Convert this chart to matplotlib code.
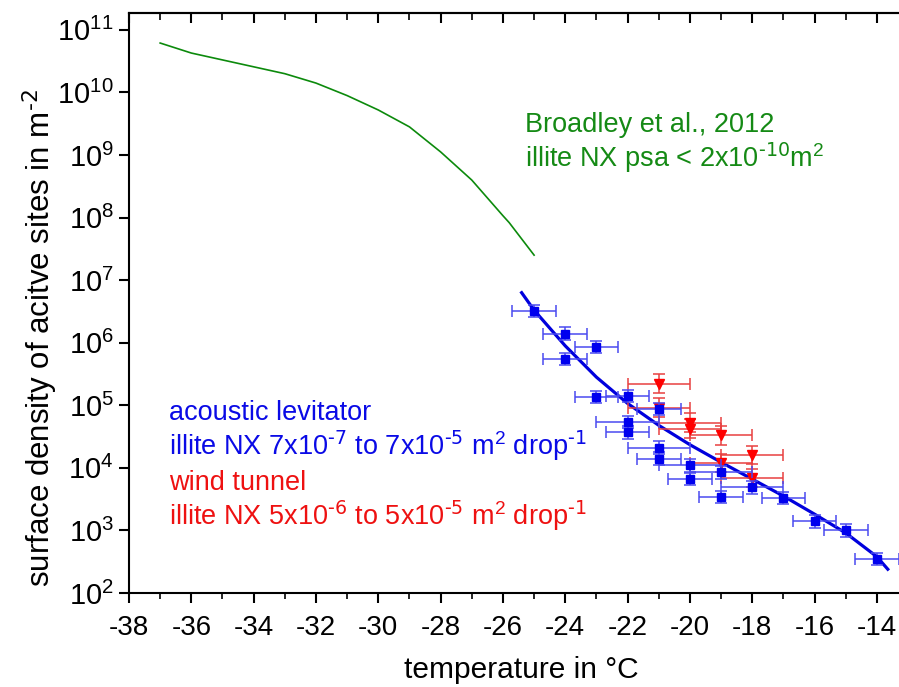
import matplotlib
matplotlib.use("Agg")
import matplotlib.pyplot as plt
import numpy as np
from matplotlib.ticker import FixedLocator, LogLocator, FuncFormatter, NullFormatter

# ---------------- data ----------------
# acoustic levitator (blue squares)
lev_T = [-25, -24, -24, -23, -23, -22, -22, -22, -21, -21, -21, -20, -20, -19, -19, -18, -17, -16, -15, -14]
lev_ns = [3.2e6, 1.4e6, 5.5e5, 8.5e5, 1.35e5, 1.4e5, 5.4e4, 3.7e4, 8.7e4, 2.1e4, 1.4e4, 1.1e4, 6.6e3,
          8.5e3, 3.4e3, 4.9e3, 3.3e3, 1.4e3, 1.0e3, 3.5e2]
lev_Terr = [0.7, 0.7, 0.7, 0.7, 0.7, 0.7, 1.0, 0.7, 0.7, 1.0, 0.7, 1.0, 0.7, 1.0, 0.7, 1.0, 0.7, 0.7, 0.7, 0.7]
lev_err_dec = [0.1] * 20

# wind tunnel (red triangles)
wt_T = [-21, -21, -20, -20, -19, -19, -18, -18]
wt_ns = [2.2e5, 9.2e4, 5.3e4, 4.2e4, 3.3e4, 1.2e4, 1.6e4, 6.9e3]
wt_Terr = [1.0] * 8
wt_err_dec = [0.15] * 8

# Broadley et al., 2012 (green line)
br_T = [-37, -36, -35, -34, -33, -32, -31, -30, -29, -28, -27, -26, -25.8, -25.0]
br_log_ns = [10.79, 10.63, 10.52, 10.41, 10.30, 10.15, 9.95, 9.72, 9.45, 9.05, 8.60, 8.03, 7.92, 7.40]

# fit through levitator data (blue line)
fit_T = [-25.4, -25, -24, -23, -22, -21, -20, -19, -18, -17, -16, -15, -14, -13.65]
fit_log_ns = [6.80, 6.52, 5.95, 5.45, 5.03, 4.68, 4.37, 4.09, 3.82, 3.55, 3.26, 2.96, 2.58, 2.38]

x_ticks = [-38, -36, -34, -32, -30, -28, -26, -24, -22, -20, -18, -16, -14]
y_decades = list(range(2, 12))

# ---------------- style ----------------
REG = ["Liberation Sans", "DejaVu Sans"]
plt.rcParams["font.family"] = REG
plt.rcParams["axes.unicode_minus"] = False
plt.rcParams["mathtext.default"] = "regular"

W, H = 899, 687
fig = plt.figure(figsize=(W / 100, H / 100), dpi=100)
ax = fig.add_axes([129 / W, 94 / H, 770 / W, 580 / H])

BLUE = "#0a0ae6"
RED = "#ee1111"
GREEN = "#158a15"

# green line
ax.plot(br_T, 10 ** np.array(br_log_ns), color="#0c8a0c", lw=1.2, zorder=3)

# blue fit line
ax.plot(fit_T, 10 ** np.array(fit_log_ns), color="#0000dd", lw=2.3, zorder=4,
        solid_joinstyle="round")

# wind tunnel
wt_ns_a = np.array(wt_ns)
wt_e = np.array(wt_err_dec)
ax.errorbar(wt_T, wt_ns_a, xerr=wt_Terr,
            yerr=[wt_ns_a * (1 - 10 ** -wt_e), wt_ns_a * (10 ** wt_e - 1)],
            fmt="v", ms=6.5, color="#ff0000", ecolor="#e84040", elinewidth=1.1,
            capsize=4, capthick=1.1, zorder=5)

# levitator
lev_ns_a = np.array(lev_ns)
lev_e = np.array(lev_err_dec)
ax.errorbar(lev_T, lev_ns_a, xerr=lev_Terr,
            yerr=[lev_ns_a * (1 - 10 ** -lev_e), lev_ns_a * (10 ** lev_e - 1)],
            fmt="s", ms=5.2, color="#0000ee", ecolor="#4a4af0", elinewidth=1.1,
            capsize=4, capthick=1.1, zorder=6)

ax.set_yscale("log")
ax.set_xlim(-38, -13.29)
ax.set_ylim(1e2, 10 ** 11.27)

ax.xaxis.set_major_locator(FixedLocator(x_ticks))
ax.xaxis.set_minor_locator(FixedLocator(np.arange(-37, -13, 2)))
ax.yaxis.set_major_locator(FixedLocator([10.0 ** d for d in y_decades]))
ax.yaxis.set_minor_locator(LogLocator(base=10, subs=np.arange(2, 10)))
ax.yaxis.set_minor_formatter(NullFormatter())
ax.yaxis.set_major_formatter(FuncFormatter(lambda v, p: r"$10^{%d}$" % int(round(np.log10(v)))))

for s in ["left", "bottom", "top"]:
    ax.spines[s].set_linewidth(1.5)
ax.spines["right"].set_visible(False)

ax.tick_params(axis="both", which="major", direction="out", length=7, width=1.5)
ax.tick_params(axis="both", which="minor", direction="out", length=4, width=1.2)
ax.tick_params(axis="x", which="major", pad=9, labelsize=20)
ax.tick_params(axis="y", which="major", pad=4, labelsize=21)

top = ax.secondary_xaxis("top")
top.xaxis.set_major_locator(FixedLocator(x_ticks))
top.xaxis.set_minor_locator(FixedLocator(np.arange(-37, -13, 2)))
top.tick_params(which="major", direction="in", length=7, width=1.5, labeltop=False)
top.tick_params(which="minor", direction="in", length=5, width=1.2)
top.spines["top"].set_linewidth(1.5)

# axis labels
fig.text(521 / W, 1 - 670 / H, "temperature in °C", fontsize=21.5,
         ha="center", va="center")
fig.text(40 / W, 1 - 338 / H, r"surface density of acitve sites in m$^{\text{-2}}$",
         fontsize=22.5, rotation=90, ha="center", va="center")

# annotations
def axy(py):
    return (593 - py) / 580

def axx(px):
    return (px - 129) / 770

tk = dict(transform=ax.transAxes, fontsize=19.5, ha="left", va="baseline")
ax.text(axx(525), axy(132), "Broadley et al., 2012", color=GREEN, **tk)
ax.text(axx(525), axy(167), r"illite NX psa < 2x10$^{\text{-10}}$m$^{2}$", color=GREEN, **tk)
ax.text(axx(169), axy(420), "acoustic levitator", color=BLUE, **tk)
ax.text(axx(169), axy(455), r"illite NX 7x10$^{\text{-7}}$ to 7x10$^{\text{-5}}$ m$^{2}$ drop$^{\text{-1}}$",
        color=BLUE, **tk)
ax.text(axx(169), axy(490), "wind tunnel", color=RED, **tk)
ax.text(axx(169), axy(525), r"illite NX 5x10$^{\text{-6}}$ to 5x10$^{\text{-5}}$ m$^{2}$ drop$^{\text{-1}}$",
        color=RED, **tk)

fig.savefig("out.png", dpi=100)
